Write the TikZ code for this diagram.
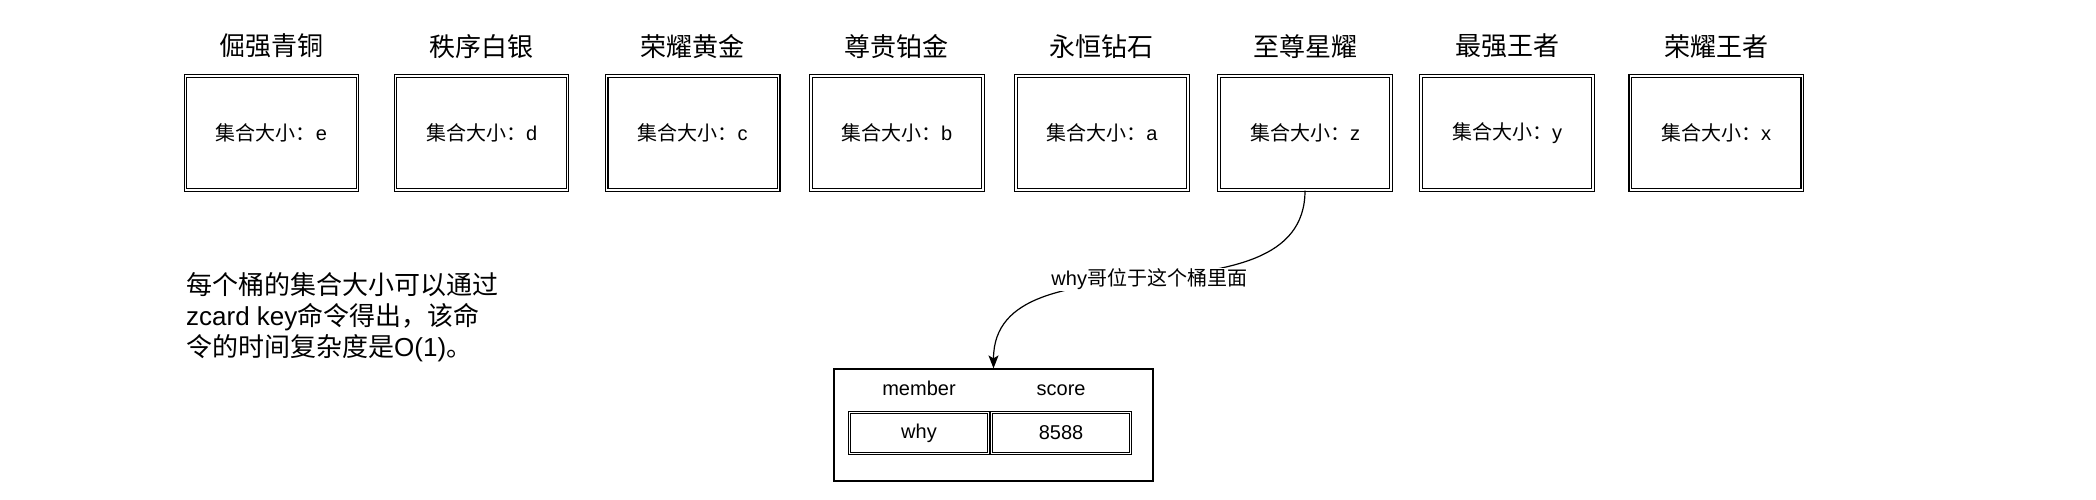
\documentclass[tikz,border=0pt]{standalone}
\usepackage{fontspec}
\setmainfont{Liberation Sans}
\newfontfamily\cjk{Noto Sans CJK SC}
\usepackage{tikz}
\usetikzlibrary{positioning, arrows.meta}
\tikzset{
    x=1pt, y=-1pt, % one unit is one pixel of the reference
    >={Stealth[length=13pt, width=10pt, inset=3pt]}, % filled arrow heads
    bucket/.style={draw, double, line width=1.1pt, double distance=1.4pt, minimum width=172pt, minimum height=114pt, inner sep=0pt, font=\fontsize{20pt}{24pt}\selectfont}, % one bucket of the zset
    tier/.style={inner sep=0pt, label distance=17pt, font=\cjk\fontsize{26pt}{31pt}\selectfont}, % rank name over a bucket
    cell/.style={draw, double, line width=1.1pt, double distance=1.4pt, minimum width=139pt, minimum height=41pt, inner sep=0pt, font=\fontsize{20pt}{24pt}\selectfont}, % member and score cells
    head/.style={inner sep=0pt, text height=14.5pt, text depth=0pt, font=\fontsize{20pt}{24pt}\selectfont}, % column heads
}

\begin{document}
\begin{tikzpicture}
    \useasboundingbox (0,0) rectangle (2096,500);
    \node[bucket, label={[tier]above:倔强青铜}] (b1) at (271.5,133) {{\cjk 集合大小：}e};
    \node[bucket, right=37pt of b1, label={[tier]above:秩序白银}] (b2) {{\cjk 集合大小：}d};
    \node[bucket, right=38pt of b2, label={[tier]above:荣耀黄金}] (b3) {{\cjk 集合大小：}c};
    \node[bucket, right=31pt of b3, label={[tier]above:尊贵铂金}] (b4) {{\cjk 集合大小：}b};
    \node[bucket, right=32pt of b4, label={[tier]above:永恒钻石}] (b5) {{\cjk 集合大小：}a};
    \node[bucket, right=30pt of b5, label={[tier]above:至尊星耀}] (b6) {{\cjk 集合大小：}z};
    \node[bucket, right=29pt of b6, label={[tier]above:最强王者}] (b7) {{\cjk 集合大小：}y};
    \node[bucket, right=36pt of b7, label={[tier]above:荣耀王者}] (b8) {{\cjk 集合大小：}x};
    % note on the left
    \node[anchor=north west, align=left, inner sep=0pt, font=\fontsize{26pt}{31pt}\selectfont] (note) at (186,272)
        {{\cjk 每个桶的集合大小可以通过}\\zcard key{\cjk 命令得出，该命}\\{\cjk 令的时间复杂度是}O(1){\cjk 。}};
    % the bucket of why
    \node[draw, line width=1.2pt, minimum width=319pt, minimum height=112pt] (zset) at (993.5,425) {};
    \node[cell] (why) at (919,433) {why};
    \node[cell, right=2pt of why] (score) {8588};
    \node[head, above=16pt of why] {member};
    \node[head, above=16pt of score] {score};
    \draw[->, line width=1.2pt] (b6.south) to[out=-90, in=90]
        node[fill=white, inner sep=1pt, font=\fontsize{20pt}{24pt}\selectfont] {why{\cjk 哥位于这个桶里面}} (zset.north);
\end{tikzpicture}
\end{document}
